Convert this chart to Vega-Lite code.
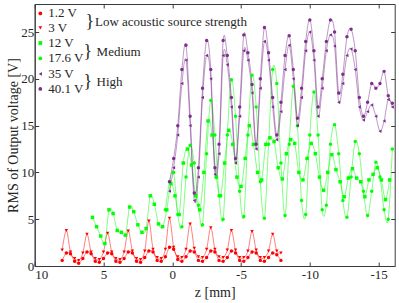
{
"$schema":"https://vega.github.io/schema/vega-lite/v6.json",
"width":360,"height":262,
"autosize":{"type":"none"},
"padding":{"left":34.7,"top":4,"right":4.3,"bottom":37},
"config":{
 "font":"Liberation Serif",
 "view":{"stroke":"#3a3a3a","strokeWidth":1},
 "axis":{"grid":false,"domainColor":"#3a3a3a","tickColor":"#3a3a3a","labelColor":"#262626","titleColor":"#262626","labelFont":"Liberation Serif","titleFont":"Liberation Serif","labelFontSize":13,"titleFontSize":14,"titleFontWeight":"normal","tickSize":-4}
},
"datasets":{
 "curves":[
{"s":"1.2 V","z":8.0,"v":0.6},{"s":"1.2 V","z":7.7,"v":1.4},{"s":"1.2 V","z":7.4,"v":1.3},{"s":"1.2 V","z":7.1,"v":0.5},{"s":"1.2 V","z":6.8,"v":0.3},{"s":"1.2 V","z":6.5,"v":0.8},{"s":"1.2 V","z":6.2,"v":1.5},{"s":"1.2 V","z":5.9,"v":1.3},{"s":"1.2 V","z":5.6,"v":0.5},{"s":"1.2 V","z":5.3,"v":0.4},{"s":"1.2 V","z":5.0,"v":0.8},{"s":"1.2 V","z":4.7,"v":1.4},{"s":"1.2 V","z":4.4,"v":1.3},{"s":"1.2 V","z":4.1,"v":0.5},{"s":"1.2 V","z":3.8,"v":0.4},{"s":"1.2 V","z":3.5,"v":0.8},{"s":"1.2 V","z":3.2,"v":1.5},{"s":"1.2 V","z":2.9,"v":1.4},{"s":"1.2 V","z":2.6,"v":0.5},{"s":"1.2 V","z":2.3,"v":0.4},{"s":"1.2 V","z":2.0,"v":0.9},{"s":"1.2 V","z":1.7,"v":1.6},{"s":"1.2 V","z":1.4,"v":1.5},{"s":"1.2 V","z":1.1,"v":0.6},{"s":"1.2 V","z":0.8,"v":0.5},{"s":"1.2 V","z":0.5,"v":1.0},{"s":"1.2 V","z":0.2,"v":2.0},{"s":"1.2 V","z":-0.1,"v":1.8},{"s":"1.2 V","z":-0.4,"v":0.7},{"s":"1.2 V","z":-0.7,"v":0.5},{"s":"1.2 V","z":-1.0,"v":1.0},{"s":"1.2 V","z":-1.3,"v":1.6},{"s":"1.2 V","z":-1.6,"v":1.5},{"s":"1.2 V","z":-1.9,"v":0.6},{"s":"1.2 V","z":-2.2,"v":0.5},{"s":"1.2 V","z":-2.5,"v":0.9},{"s":"1.2 V","z":-2.8,"v":1.6},{"s":"1.2 V","z":-3.1,"v":1.5},{"s":"1.2 V","z":-3.4,"v":0.6},{"s":"1.2 V","z":-3.7,"v":0.5},{"s":"1.2 V","z":-4.0,"v":0.9},{"s":"1.2 V","z":-4.3,"v":1.6},{"s":"1.2 V","z":-4.6,"v":1.4},{"s":"1.2 V","z":-4.9,"v":0.6},{"s":"1.2 V","z":-5.2,"v":0.5},{"s":"1.2 V","z":-5.5,"v":0.9},{"s":"1.2 V","z":-5.8,"v":1.5},{"s":"1.2 V","z":-6.1,"v":1.4},{"s":"1.2 V","z":-6.4,"v":0.6},{"s":"1.2 V","z":-6.7,"v":0.5},{"s":"1.2 V","z":-7.0,"v":0.9},{"s":"1.2 V","z":-7.3,"v":1.4},{"s":"1.2 V","z":-7.6,"v":1.2},{"s":"1.2 V","z":-7.9,"v":0.6},
{"s":"3 V","z":8.0,"v":1.7},{"s":"3 V","z":7.7,"v":3.8},{"s":"3 V","z":7.4,"v":1.5},{"s":"3 V","z":7.1,"v":0.8},{"s":"3 V","z":6.8,"v":0.6},{"s":"3 V","z":6.5,"v":1.4},{"s":"3 V","z":6.2,"v":3.4},{"s":"3 V","z":5.9,"v":1.5},{"s":"3 V","z":5.6,"v":0.8},{"s":"3 V","z":5.3,"v":0.7},{"s":"3 V","z":5.0,"v":1.5},{"s":"3 V","z":4.7,"v":3.5},{"s":"3 V","z":4.4,"v":1.5},{"s":"3 V","z":4.1,"v":0.8},{"s":"3 V","z":3.8,"v":0.7},{"s":"3 V","z":3.5,"v":1.5},{"s":"3 V","z":3.2,"v":3.75},{"s":"3 V","z":2.9,"v":1.6},{"s":"3 V","z":2.6,"v":0.8},{"s":"3 V","z":2.3,"v":0.7},{"s":"3 V","z":2.0,"v":1.6},{"s":"3 V","z":1.7,"v":4.8},{"s":"3 V","z":1.4,"v":1.8},{"s":"3 V","z":1.1,"v":0.9},{"s":"3 V","z":0.8,"v":0.8},{"s":"3 V","z":0.5,"v":1.8},{"s":"3 V","z":0.2,"v":5.1},{"s":"3 V","z":-0.1,"v":2.0},{"s":"3 V","z":-0.4,"v":1.0},{"s":"3 V","z":-0.7,"v":0.9},{"s":"3 V","z":-1.0,"v":1.8},{"s":"3 V","z":-1.3,"v":4.5},{"s":"3 V","z":-1.6,"v":1.9},{"s":"3 V","z":-1.9,"v":1.0},{"s":"3 V","z":-2.2,"v":0.9},{"s":"3 V","z":-2.5,"v":1.8},{"s":"3 V","z":-2.8,"v":4.1},{"s":"3 V","z":-3.1,"v":1.8},{"s":"3 V","z":-3.4,"v":1.0},{"s":"3 V","z":-3.7,"v":0.9},{"s":"3 V","z":-4.0,"v":1.7},{"s":"3 V","z":-4.3,"v":3.8},{"s":"3 V","z":-4.6,"v":1.7},{"s":"3 V","z":-4.9,"v":0.9},{"s":"3 V","z":-5.2,"v":0.9},{"s":"3 V","z":-5.5,"v":1.6},{"s":"3 V","z":-5.8,"v":3.7},{"s":"3 V","z":-6.1,"v":1.7},{"s":"3 V","z":-6.4,"v":0.9},{"s":"3 V","z":-6.7,"v":0.9},{"s":"3 V","z":-7.0,"v":1.6},{"s":"3 V","z":-7.3,"v":3.4},{"s":"3 V","z":-7.6,"v":1.6},{"s":"3 V","z":-7.9,"v":1.4},
{"s":"12 V","z":5.8,"v":5.2},{"s":"12 V","z":5.5,"v":4.2},{"s":"12 V","z":5.2,"v":3.2},{"s":"12 V","z":4.9,"v":2.4},{"s":"12 V","z":4.6,"v":6.0},{"s":"12 V","z":4.3,"v":5.6},{"s":"12 V","z":4.0,"v":3.8},{"s":"12 V","z":3.7,"v":3.6},{"s":"12 V","z":3.4,"v":3.3},{"s":"12 V","z":3.1,"v":6.3},{"s":"12 V","z":2.8,"v":5.8},{"s":"12 V","z":2.5,"v":4.4},{"s":"12 V","z":2.2,"v":3.6},{"s":"12 V","z":1.9,"v":4.0},{"s":"12 V","z":1.6,"v":7.5},{"s":"12 V","z":1.3,"v":6.6},{"s":"12 V","z":1.0,"v":4.5},{"s":"12 V","z":0.7,"v":4.2},{"s":"12 V","z":0.4,"v":6.0},{"s":"12 V","z":0.1,"v":8.8},{"s":"12 V","z":-0.2,"v":7.5},{"s":"12 V","z":-0.5,"v":5.5},{"s":"12 V","z":-0.8,"v":11.0},{"s":"12 V","z":-1.1,"v":12.5},{"s":"12 V","z":-1.4,"v":10.8},{"s":"12 V","z":-1.7,"v":7.5},{"s":"12 V","z":-2.0,"v":6.0},{"s":"12 V","z":-2.3,"v":10.0},{"s":"12 V","z":-2.6,"v":15.5},{"s":"12 V","z":-2.9,"v":14.0},{"s":"12 V","z":-3.2,"v":9.5},{"s":"12 V","z":-3.5,"v":7.5},{"s":"12 V","z":-3.8,"v":11.0},{"s":"12 V","z":-4.1,"v":14.5},{"s":"12 V","z":-4.4,"v":13.0},{"s":"12 V","z":-4.7,"v":9.5},{"s":"12 V","z":-5.0,"v":8.5},{"s":"12 V","z":-5.3,"v":11.5},{"s":"12 V","z":-5.6,"v":15.0},{"s":"12 V","z":-5.9,"v":13.0},{"s":"12 V","z":-6.2,"v":10.0},{"s":"12 V","z":-6.5,"v":9.2},{"s":"12 V","z":-6.8,"v":13.0},{"s":"12 V","z":-7.1,"v":13.7},{"s":"12 V","z":-7.4,"v":13.3},{"s":"12 V","z":-7.7,"v":10.5},{"s":"12 V","z":-8.0,"v":9.3},{"s":"12 V","z":-8.3,"v":12.0},{"s":"12 V","z":-8.6,"v":13.5},{"s":"12 V","z":-8.9,"v":13.1},{"s":"12 V","z":-9.2,"v":10.0},{"s":"12 V","z":-9.5,"v":9.2},{"s":"12 V","z":-9.8,"v":11.5},{"s":"12 V","z":-10.1,"v":13.1},{"s":"12 V","z":-10.4,"v":12.0},{"s":"12 V","z":-10.7,"v":9.5},{"s":"12 V","z":-11.0,"v":8.1},{"s":"12 V","z":-11.3,"v":10.0},{"s":"12 V","z":-11.6,"v":11.9},{"s":"12 V","z":-11.9,"v":10.3},{"s":"12 V","z":-12.2,"v":9.0},{"s":"12 V","z":-12.5,"v":7.4},{"s":"12 V","z":-12.8,"v":9.4},{"s":"12 V","z":-13.1,"v":10.4},{"s":"12 V","z":-13.4,"v":9.4},{"s":"12 V","z":-13.7,"v":9.0},{"s":"12 V","z":-14.0,"v":7.4},{"s":"12 V","z":-14.3,"v":9.2},{"s":"12 V","z":-14.6,"v":9.8},{"s":"12 V","z":-14.9,"v":10.5},{"s":"12 V","z":-15.2,"v":9.2},{"s":"12 V","z":-15.5,"v":7.1},{"s":"12 V","z":-15.8,"v":9.2},
{"s":"17.6 V","z":0.5,"v":6.0},{"s":"17.6 V","z":0.2,"v":9.0},{"s":"17.6 V","z":-0.1,"v":10.0},{"s":"17.6 V","z":-0.4,"v":5.5},{"s":"17.6 V","z":-0.7,"v":4.2},{"s":"17.6 V","z":-1.0,"v":9.5},{"s":"17.6 V","z":-1.3,"v":12.9},{"s":"17.6 V","z":-1.6,"v":11.0},{"s":"17.6 V","z":-1.9,"v":6.5},{"s":"17.6 V","z":-2.2,"v":4.4},{"s":"17.6 V","z":-2.5,"v":12.0},{"s":"17.6 V","z":-2.8,"v":17.7},{"s":"17.6 V","z":-3.1,"v":14.0},{"s":"17.6 V","z":-3.4,"v":7.5},{"s":"17.6 V","z":-3.7,"v":5.0},{"s":"17.6 V","z":-4.0,"v":14.0},{"s":"17.6 V","z":-4.3,"v":19.9},{"s":"17.6 V","z":-4.6,"v":16.0},{"s":"17.6 V","z":-4.9,"v":8.0},{"s":"17.6 V","z":-5.2,"v":5.3},{"s":"17.6 V","z":-5.5,"v":14.0},{"s":"17.6 V","z":-5.8,"v":20.4},{"s":"17.6 V","z":-6.1,"v":17.0},{"s":"17.6 V","z":-6.4,"v":9.0},{"s":"17.6 V","z":-6.7,"v":5.1},{"s":"17.6 V","z":-7.0,"v":13.0},{"s":"17.6 V","z":-7.3,"v":21.0},{"s":"17.6 V","z":-7.6,"v":19.5},{"s":"17.6 V","z":-7.9,"v":11.0},{"s":"17.6 V","z":-8.2,"v":5.4},{"s":"17.6 V","z":-8.5,"v":13.0},{"s":"17.6 V","z":-8.8,"v":19.2},{"s":"17.6 V","z":-9.1,"v":15.0},{"s":"17.6 V","z":-9.4,"v":7.0},{"s":"17.6 V","z":-9.7,"v":5.5},{"s":"17.6 V","z":-10.0,"v":14.0},{"s":"17.6 V","z":-10.3,"v":18.6},{"s":"17.6 V","z":-10.6,"v":14.0},{"s":"17.6 V","z":-10.9,"v":6.0},{"s":"17.6 V","z":-11.2,"v":6.5},{"s":"17.6 V","z":-11.5,"v":13.0},{"s":"17.6 V","z":-11.8,"v":15.1},{"s":"17.6 V","z":-12.1,"v":12.0},{"s":"17.6 V","z":-12.4,"v":7.0},{"s":"17.6 V","z":-12.7,"v":5.2},{"s":"17.6 V","z":-13.0,"v":9.5},{"s":"17.6 V","z":-13.3,"v":13.3},{"s":"17.6 V","z":-13.6,"v":12.0},{"s":"17.6 V","z":-13.9,"v":8.0},{"s":"17.6 V","z":-14.2,"v":5.4},{"s":"17.6 V","z":-14.5,"v":8.0},{"s":"17.6 V","z":-14.8,"v":11.1},{"s":"17.6 V","z":-15.1,"v":9.5},{"s":"17.6 V","z":-15.4,"v":6.0},{"s":"17.6 V","z":-15.7,"v":5.0},{"s":"17.6 V","z":-16.0,"v":12.5},
{"s":"35 V","z":0.2,"v":8.0},{"s":"35 V","z":-0.1,"v":10.5},{"s":"35 V","z":-0.4,"v":14.0},{"s":"35 V","z":-0.7,"v":19.5},{"s":"35 V","z":-1.0,"v":22.0},{"s":"35 V","z":-1.3,"v":15.0},{"s":"35 V","z":-1.6,"v":7.0},{"s":"35 V","z":-1.9,"v":9.5},{"s":"35 V","z":-2.2,"v":18.0},{"s":"35 V","z":-2.5,"v":22.5},{"s":"35 V","z":-2.8,"v":20.0},{"s":"35 V","z":-3.1,"v":9.8},{"s":"35 V","z":-3.4,"v":12.0},{"s":"35 V","z":-3.7,"v":22.5},{"s":"35 V","z":-4.0,"v":21.5},{"s":"35 V","z":-4.3,"v":17.0},{"s":"35 V","z":-4.6,"v":11.0},{"s":"35 V","z":-4.9,"v":16.0},{"s":"35 V","z":-5.2,"v":23.0},{"s":"35 V","z":-5.5,"v":22.0},{"s":"35 V","z":-5.8,"v":18.5},{"s":"35 V","z":-6.1,"v":12.5},{"s":"35 V","z":-6.4,"v":19.0},{"s":"35 V","z":-6.7,"v":24.0},{"s":"35 V","z":-7.0,"v":22.0},{"s":"35 V","z":-7.3,"v":17.0},{"s":"35 V","z":-7.6,"v":13.5},{"s":"35 V","z":-7.9,"v":16.5},{"s":"35 V","z":-8.2,"v":21.0},{"s":"35 V","z":-8.5,"v":23.6},{"s":"35 V","z":-8.8,"v":20.0},{"s":"35 V","z":-9.1,"v":15.0},{"s":"35 V","z":-9.4,"v":18.0},{"s":"35 V","z":-9.7,"v":23.0},{"s":"35 V","z":-10.0,"v":25.0},{"s":"35 V","z":-10.3,"v":22.0},{"s":"35 V","z":-10.6,"v":16.0},{"s":"35 V","z":-10.9,"v":19.0},{"s":"35 V","z":-11.2,"v":23.0},{"s":"35 V","z":-11.5,"v":24.7},{"s":"35 V","z":-11.8,"v":23.5},{"s":"35 V","z":-12.1,"v":17.5},{"s":"35 V","z":-12.4,"v":19.5},{"s":"35 V","z":-12.7,"v":22.5},{"s":"35 V","z":-13.0,"v":23.2},{"s":"35 V","z":-13.3,"v":21.0},{"s":"35 V","z":-13.6,"v":17.0},{"s":"35 V","z":-13.9,"v":15.6},{"s":"35 V","z":-14.2,"v":16.5},{"s":"35 V","z":-14.5,"v":17.2},{"s":"35 V","z":-14.8,"v":16.0},{"s":"35 V","z":-15.1,"v":14.4},{"s":"35 V","z":-15.4,"v":15.5},{"s":"35 V","z":-15.7,"v":17.8},{"s":"35 V","z":-16.0,"v":17.0},
{"s":"40.1 V","z":0.2,"v":9.0},{"s":"40.1 V","z":-0.1,"v":11.5},{"s":"40.1 V","z":-0.4,"v":15.0},{"s":"40.1 V","z":-0.7,"v":21.0},{"s":"40.1 V","z":-1.0,"v":23.6},{"s":"40.1 V","z":-1.3,"v":16.0},{"s":"40.1 V","z":-1.6,"v":7.8},{"s":"40.1 V","z":-1.9,"v":10.5},{"s":"40.1 V","z":-2.2,"v":19.0},{"s":"40.1 V","z":-2.5,"v":24.1},{"s":"40.1 V","z":-2.8,"v":21.0},{"s":"40.1 V","z":-3.1,"v":10.5},{"s":"40.1 V","z":-3.4,"v":13.0},{"s":"40.1 V","z":-3.7,"v":24.1},{"s":"40.1 V","z":-4.0,"v":22.5},{"s":"40.1 V","z":-4.3,"v":18.0},{"s":"40.1 V","z":-4.6,"v":11.5},{"s":"40.1 V","z":-4.9,"v":17.0},{"s":"40.1 V","z":-5.2,"v":24.7},{"s":"40.1 V","z":-5.5,"v":22.8},{"s":"40.1 V","z":-5.8,"v":19.4},{"s":"40.1 V","z":-6.1,"v":13.0},{"s":"40.1 V","z":-6.4,"v":20.0},{"s":"40.1 V","z":-6.7,"v":25.5},{"s":"40.1 V","z":-7.0,"v":22.8},{"s":"40.1 V","z":-7.3,"v":18.0},{"s":"40.1 V","z":-7.6,"v":14.0},{"s":"40.1 V","z":-7.9,"v":17.5},{"s":"40.1 V","z":-8.2,"v":22.5},{"s":"40.1 V","z":-8.5,"v":24.6},{"s":"40.1 V","z":-8.8,"v":21.0},{"s":"40.1 V","z":-9.1,"v":15.8},{"s":"40.1 V","z":-9.4,"v":19.0},{"s":"40.1 V","z":-9.7,"v":24.0},{"s":"40.1 V","z":-10.0,"v":26.3},{"s":"40.1 V","z":-10.3,"v":23.0},{"s":"40.1 V","z":-10.6,"v":17.0},{"s":"40.1 V","z":-10.9,"v":20.0},{"s":"40.1 V","z":-11.2,"v":24.0},{"s":"40.1 V","z":-11.5,"v":26.3},{"s":"40.1 V","z":-11.8,"v":25.0},{"s":"40.1 V","z":-12.1,"v":18.5},{"s":"40.1 V","z":-12.4,"v":20.5},{"s":"40.1 V","z":-12.7,"v":24.5},{"s":"40.1 V","z":-13.0,"v":25.3},{"s":"40.1 V","z":-13.3,"v":23.0},{"s":"40.1 V","z":-13.6,"v":18.0},{"s":"40.1 V","z":-13.9,"v":16.0},{"s":"40.1 V","z":-14.2,"v":17.5},{"s":"40.1 V","z":-14.5,"v":19.5},{"s":"40.1 V","z":-14.8,"v":19.0},{"s":"40.1 V","z":-15.1,"v":19.5},{"s":"40.1 V","z":-15.4,"v":20.8},{"s":"40.1 V","z":-15.7,"v":18.2},{"s":"40.1 V","z":-16.0,"v":17.4}
 ],
 "one":[{}]
},
"resolve":{"axis":{"x":"independent","y":"independent"}},
"layer":[
 {"data":{"name":"curves"},
  "mark":{"type":"line","interpolate":"cardinal","strokeWidth":1,"strokeOpacity":0.5},
  "encoding":{
   "x":{"field":"z","type":"quantitative","scale":{"domain":[-16.17,10],"reverse":true,"nice":false,"zero":false},"axis":null},
   "y":{"field":"v","type":"quantitative","scale":{"domain":[0,28],"nice":false},"axis":null},
   "detail":{"field":"s"},
   "stroke":{"field":"s","type":"nominal","legend":null,"scale":{"domain":["1.2 V","3 V","12 V","17.6 V","35 V","40.1 V"],"range":["#ff0000","#ff0000","#00ff00","#00ff00","#7e2f8e","#7e2f8e"]}}
  }},
 {"data":{"name":"curves"},
  "mark":{"type":"point","filled":true,"size":12,"opacity":1},
  "encoding":{
   "x":{"field":"z","type":"quantitative","axis":{"orient":"bottom","values":[10,5,0,-5,-10,-15],"labelExpr":"datum.value < 0 ? '-' + abs(datum.value) : '' + datum.value","title":"z [mm]","labelFont":"Liberation Serif","titleFont":"Liberation Serif","labelPadding":6,"titlePadding":4}},
   "y":{"field":"v","type":"quantitative","axis":{"orient":"left","values":[0,5,10,15,20,25],"title":"RMS of Output voltage [V]","labelFont":"Liberation Serif","titleFont":"Liberation Serif","labelPadding":5,"titlePadding":0}},
   "color":{"field":"s","type":"nominal","legend":null,"scale":{"domain":["1.2 V","3 V","12 V","17.6 V","35 V","40.1 V"],"range":["#ff0000","#ff0000","#00ff00","#00ff00","#7e2f8e","#7e2f8e"]}},
   "shape":{"field":"s","type":"nominal","legend":null,"scale":{"domain":["1.2 V","3 V","12 V","17.6 V","35 V","40.1 V"],"range":["circle","triangle-down","square","circle","triangle-left","circle"]}}
  }},
 {"data":{"name":"curves"},
  "mark":{"type":"point","opacity":0},
  "encoding":{
   "x":{"field":"z","type":"quantitative","axis":{"orient":"top","values":[10,5,0,-5,-10,-15],"labels":false,"title":null,"domain":false}},
   "y":{"field":"v","type":"quantitative","axis":{"orient":"right","values":[0,5,10,15,20,25],"labels":false,"title":null,"domain":false}}
  }},
 {"data":{"name":"one"},"mark":{"type":"point","filled":true,"size":14,"shape":"circle","color":"#ff0000","opacity":1},
  "encoding":{"x":{"datum":9.59,"type":"quantitative","axis":null},"y":{"datum":26.99,"type":"quantitative","axis":null}}},
 {"data":{"name":"one"},"mark":{"type":"point","filled":true,"size":14,"shape":"triangle-down","color":"#ff0000","opacity":1},
  "encoding":{"x":{"datum":9.59,"type":"quantitative","axis":null},"y":{"datum":25.44,"type":"quantitative","axis":null}}},
 {"data":{"name":"one"},"mark":{"type":"point","filled":true,"size":14,"shape":"square","color":"#00ff00","opacity":1},
  "encoding":{"x":{"datum":9.59,"type":"quantitative","axis":null},"y":{"datum":23.83,"type":"quantitative","axis":null}}},
 {"data":{"name":"one"},"mark":{"type":"point","filled":true,"size":14,"shape":"circle","color":"#00ff00","opacity":1},
  "encoding":{"x":{"datum":9.59,"type":"quantitative","axis":null},"y":{"datum":22.18,"type":"quantitative","axis":null}}},
 {"data":{"name":"one"},"mark":{"type":"point","filled":true,"size":14,"shape":"triangle-left","color":"#7e2f8e","opacity":1},
  "encoding":{"x":{"datum":9.59,"type":"quantitative","axis":null},"y":{"datum":20.52,"type":"quantitative","axis":null}}},
 {"data":{"name":"one"},"mark":{"type":"point","filled":true,"size":14,"shape":"circle","color":"#7e2f8e","opacity":1},
  "encoding":{"x":{"datum":9.59,"type":"quantitative","axis":null},"y":{"datum":18.92,"type":"quantitative","axis":null}}},
 {"data":{"name":"one"},"mark":{"type":"text","text":"1.2 V","font":"Liberation Serif","fontSize":13,"color":"#262626","align":"left","baseline":"middle"},
  "encoding":{"x":{"datum":9.01,"type":"quantitative","axis":null},"y":{"datum":26.99,"type":"quantitative","axis":null}}},
 {"data":{"name":"one"},"mark":{"type":"text","text":"3 V","font":"Liberation Serif","fontSize":13,"color":"#262626","align":"left","baseline":"middle"},
  "encoding":{"x":{"datum":9.01,"type":"quantitative","axis":null},"y":{"datum":25.44,"type":"quantitative","axis":null}}},
 {"data":{"name":"one"},"mark":{"type":"text","text":"12 V","font":"Liberation Serif","fontSize":13,"color":"#262626","align":"left","baseline":"middle"},
  "encoding":{"x":{"datum":9.01,"type":"quantitative","axis":null},"y":{"datum":23.83,"type":"quantitative","axis":null}}},
 {"data":{"name":"one"},"mark":{"type":"text","text":"17.6 V","font":"Liberation Serif","fontSize":13,"color":"#262626","align":"left","baseline":"middle"},
  "encoding":{"x":{"datum":9.01,"type":"quantitative","axis":null},"y":{"datum":22.18,"type":"quantitative","axis":null}}},
 {"data":{"name":"one"},"mark":{"type":"text","text":"35 V","font":"Liberation Serif","fontSize":13,"color":"#262626","align":"left","baseline":"middle"},
  "encoding":{"x":{"datum":9.01,"type":"quantitative","axis":null},"y":{"datum":20.52,"type":"quantitative","axis":null}}},
 {"data":{"name":"one"},"mark":{"type":"text","text":"40.1 V","font":"Liberation Serif","fontSize":13,"color":"#262626","align":"left","baseline":"middle"},
  "encoding":{"x":{"datum":9.01,"type":"quantitative","axis":null},"y":{"datum":18.92,"type":"quantitative","axis":null}}},
 {"data":{"name":"one"},"mark":{"type":"text","text":"}","font":"Liberation Serif","fontSize":18,"color":"#262626","align":"left","baseline":"middle"},
  "encoding":{"x":{"datum":6.3,"type":"quantitative","axis":null},"y":{"datum":26.11,"type":"quantitative","axis":null}}},
 {"data":{"name":"one"},"mark":{"type":"text","text":"}","font":"Liberation Serif","fontSize":18,"color":"#262626","align":"left","baseline":"middle"},
  "encoding":{"x":{"datum":6.45,"type":"quantitative","axis":null},"y":{"datum":22.87,"type":"quantitative","axis":null}}},
 {"data":{"name":"one"},"mark":{"type":"text","text":"}","font":"Liberation Serif","fontSize":18,"color":"#262626","align":"left","baseline":"middle"},
  "encoding":{"x":{"datum":6.45,"type":"quantitative","axis":null},"y":{"datum":19.66,"type":"quantitative","axis":null}}},
 {"data":{"name":"one"},"mark":{"type":"text","text":"Low acoustic source strength","font":"Liberation Serif","fontSize":13,"color":"#262626","align":"left","baseline":"middle"},
  "encoding":{"x":{"datum":5.62,"type":"quantitative","axis":null},"y":{"datum":26.11,"type":"quantitative","axis":null}}},
 {"data":{"name":"one"},"mark":{"type":"text","text":"Medium","font":"Liberation Serif","fontSize":13,"color":"#262626","align":"left","baseline":"middle"},
  "encoding":{"x":{"datum":5.5,"type":"quantitative","axis":null},"y":{"datum":22.87,"type":"quantitative","axis":null}}},
 {"data":{"name":"one"},"mark":{"type":"text","text":"High","font":"Liberation Serif","fontSize":13,"color":"#262626","align":"left","baseline":"middle"},
  "encoding":{"x":{"datum":5.5,"type":"quantitative","axis":null},"y":{"datum":19.66,"type":"quantitative","axis":null}}}
]
}
